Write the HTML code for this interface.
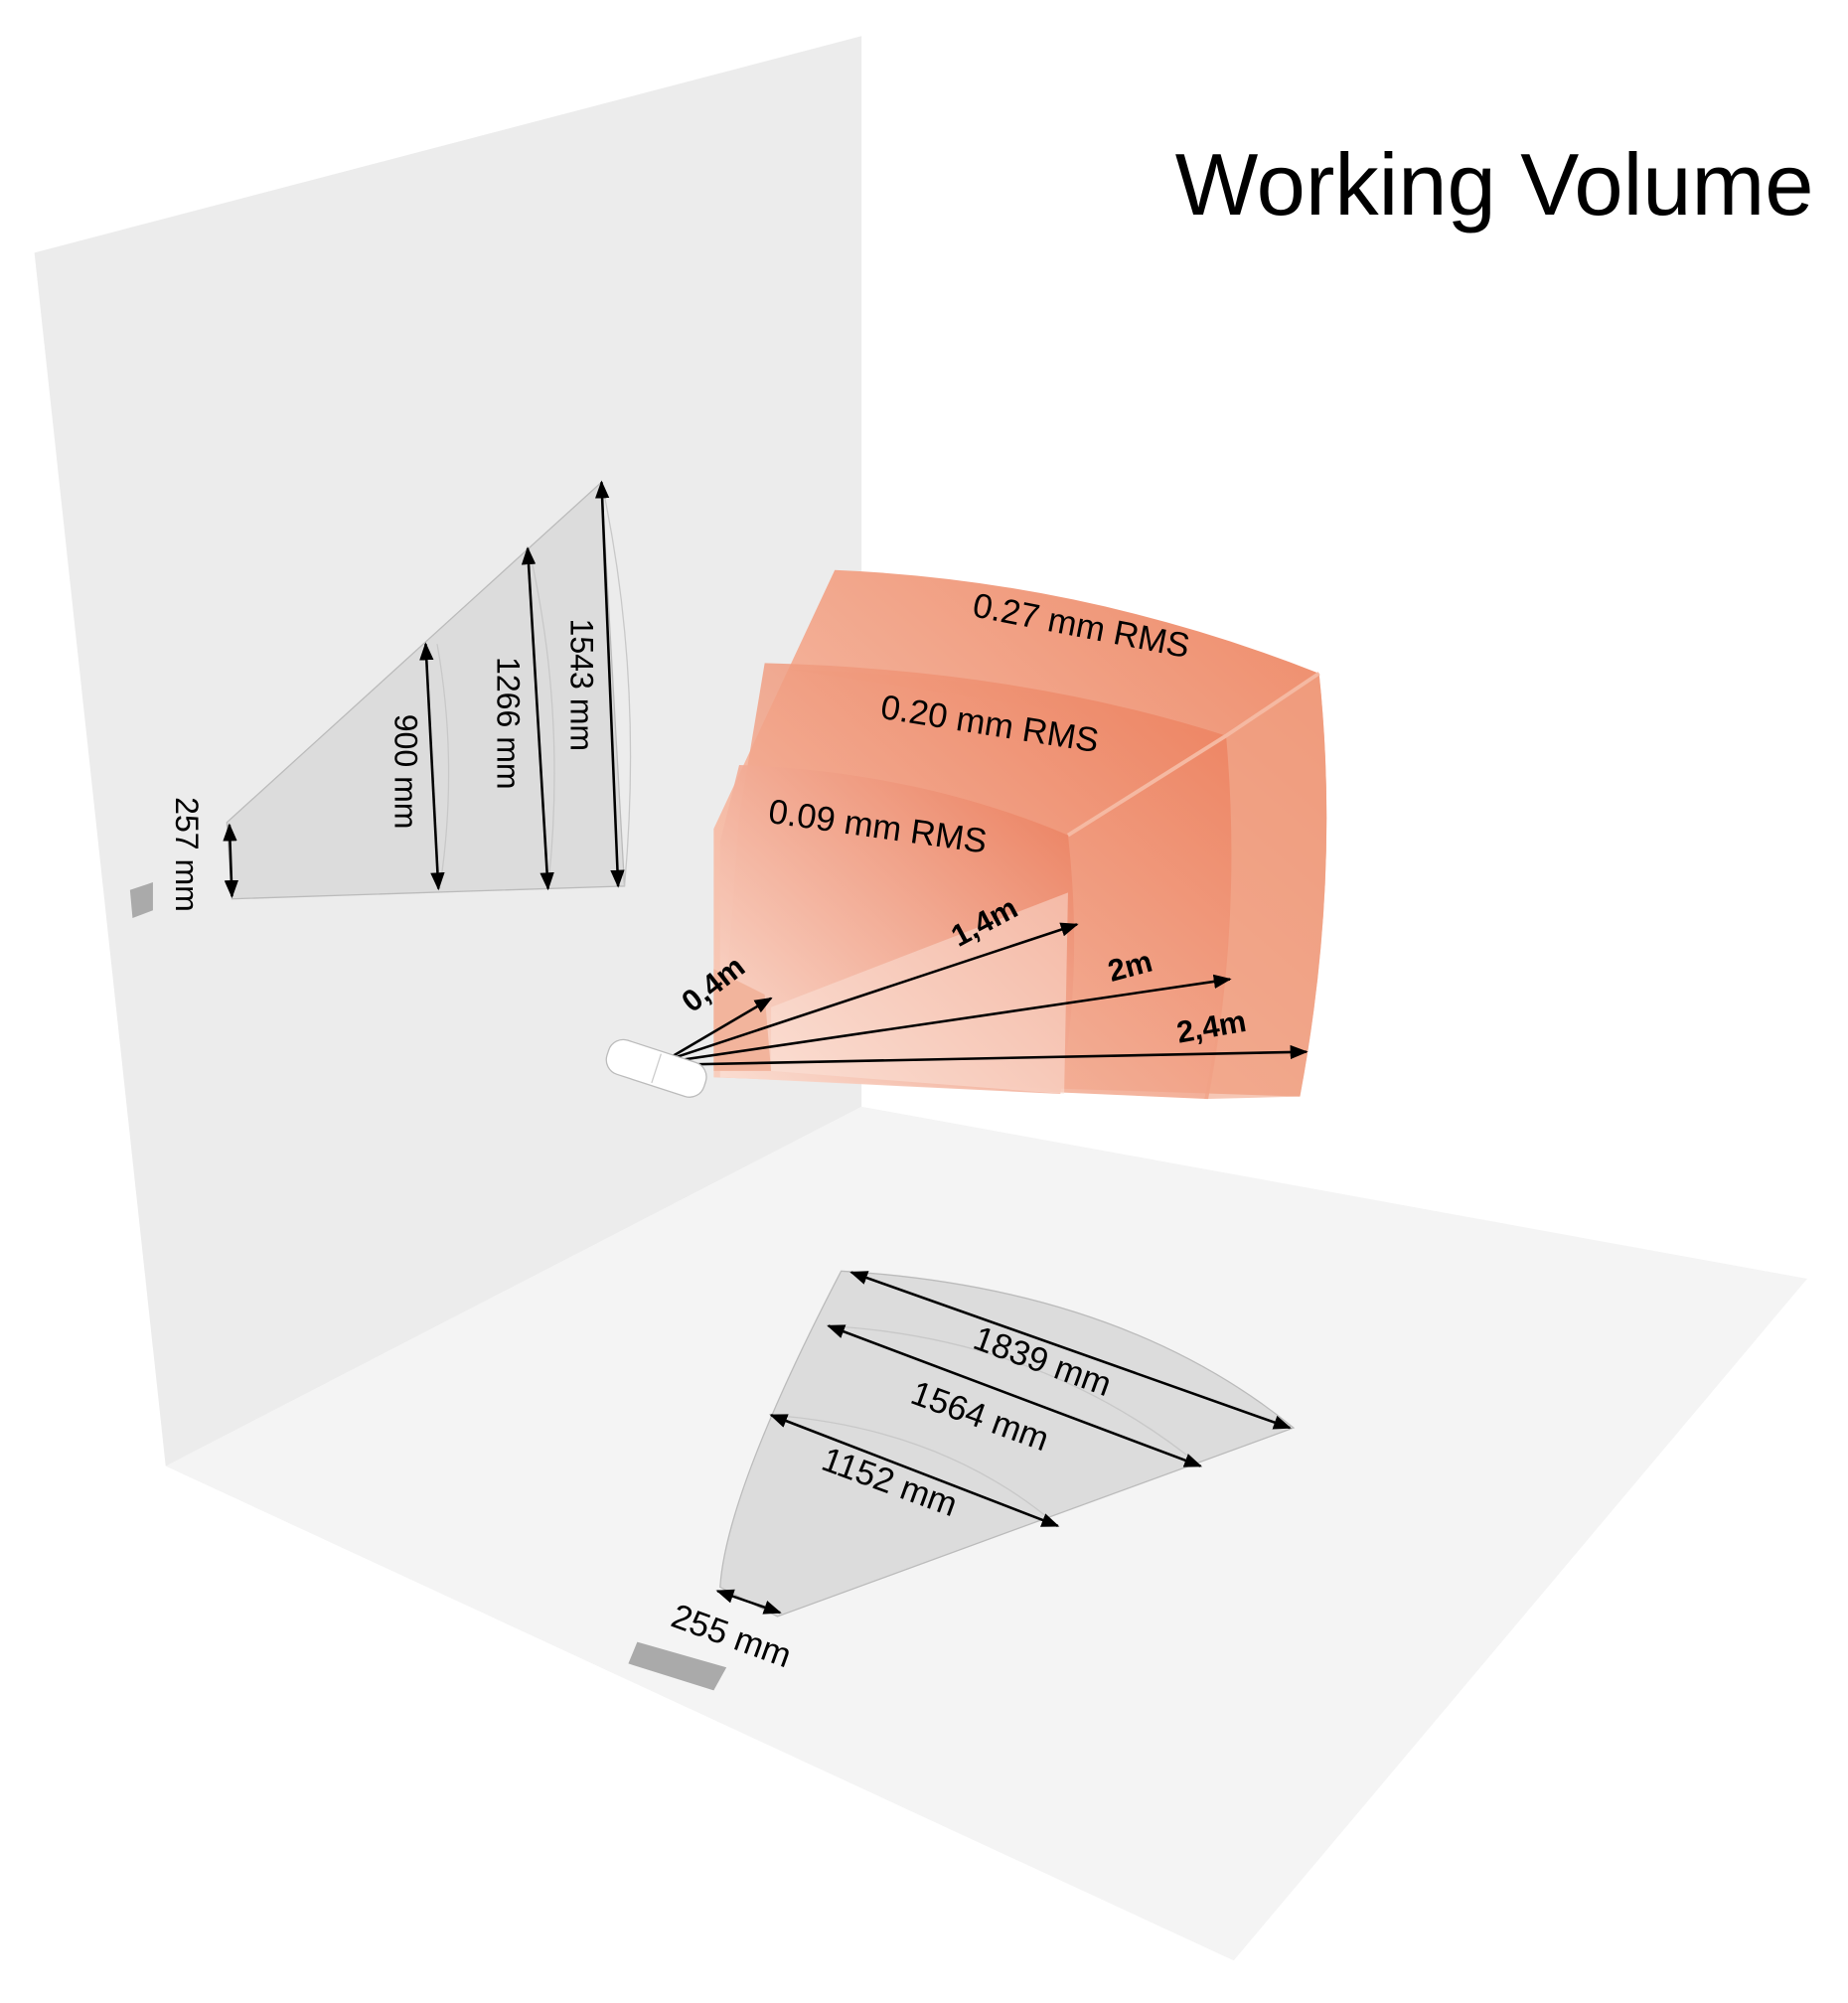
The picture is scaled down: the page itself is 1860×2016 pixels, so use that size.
<!DOCTYPE html>
<html><head><meta charset="utf-8"><style>
html,body{margin:0;padding:0;background:#fff}
svg{display:block}
text{font-family:"Liberation Sans",sans-serif}
</style></head><body>
<svg width="1860" height="2016" viewBox="0 0 1450 1571" xmlns="http://www.w3.org/2000/svg">
<defs>
<marker id="a" viewBox="0 0 10 10" refX="9" refY="5" markerWidth="7" markerHeight="7" orient="auto-start-reverse"><path d="M0,1 L10,5 L0,9 Z" fill="#000"/></marker>
<linearGradient id="g1" x1="0" y1="1" x2="1" y2="0"><stop offset="0" stop-color="#f8d0c0"/><stop offset="1" stop-color="#ee8a68"/></linearGradient>
<linearGradient id="g2" x1="0" y1="1" x2="1" y2="0"><stop offset="0" stop-color="#f6c4b0"/><stop offset="1" stop-color="#ec7d5a"/></linearGradient>
<linearGradient id="g3" x1="0" y1="1" x2="1" y2="0"><stop offset="0" stop-color="#fbe2d8"/><stop offset="1" stop-color="#ea7a58"/></linearGradient>
</defs>
<polygon points="130,1150 676,868 1418,1003 968,1538" fill="#f4f4f4"/>
<polygon points="27,198 676,28 676,868 130,1150" fill="#ececec"/>
<text x="922" y="168" font-size="69">Working Volume</text>
<polygon points="178,645 472,378 490,695 182,705" fill="#dcdcdc" stroke="#bbb" stroke-width="1"/>
<path d="M343,505 Q360,600 345,697 M415,430 Q445,560 430,697 M472,378 Q505,530 490,695" fill="none" stroke="#c8c8c8"/>
<g stroke="#000" stroke-width="2" marker-start="url(#a)" marker-end="url(#a)">
<line x1="180" y1="647" x2="182" y2="703"/><line x1="334" y1="505" x2="344" y2="697"/>
<line x1="414" y1="430" x2="430" y2="697"/><line x1="472" y1="378" x2="485" y2="695"/>
</g>
<g font-size="25">
<text transform="translate(138,625) rotate(90)">257 mm</text>
<text transform="translate(310,560) rotate(90)">900 mm</text>
<text transform="translate(390,515) rotate(90)">1266 mm</text>
<text transform="translate(448,485) rotate(90)">1543 mm</text>
</g>
<polygon points="102,698 120,692 120,714 104,720" fill="#aaa"/>
<path d="M655,447 Q850,455 1035,528 Q1052,690 1020,860 L560,845 L560,650 Z" fill="url(#g1)"/>
<path d="M620,525 Q800,530 962,577 L1035,528 Q1052,690 1020,860 L945,862 Q975,720 962,577 Z" fill="#f0a184" opacity="0.6"/>
<path d="M600,520 Q800,525 962,577 Q975,720 948,862 L565,845 L580,640 Z" fill="url(#g2)" opacity="0.85"/>
<path d="M580,600 Q720,605 838,655 Q850,760 832,858 L565,845 L565,660 Z" fill="url(#g3)" opacity="0.9"/>
<path d="M838,655 L962,577 M962,577 L1035,528" stroke="#f5b9a2" stroke-width="3" fill="none"/>
<path d="M560,760 L600,780 L605,840 L560,840 Z" fill="#f2b49c"/>
<path d="M605,790 L838,700 L835,858 L605,840 Z" fill="#fbe4da" opacity="0.5"/>
<g font-size="27">
<text transform="translate(762,483) rotate(11)">0.27 mm RMS</text>
<text transform="translate(690,563) rotate(9)">0.20 mm RMS</text>
<text transform="translate(602,645) rotate(8)">0.09 mm RMS</text>
</g>
<g stroke="#000" stroke-width="2" marker-end="url(#a)">
<line x1="525" y1="830" x2="605" y2="783"/><line x1="528" y1="830" x2="845" y2="725"/>
<line x1="530" y1="832" x2="965" y2="768"/><line x1="535" y1="835" x2="1025" y2="825"/>
</g>
<g font-size="24" font-weight="bold">
<text transform="translate(543,795) rotate(-38)">0,4m</text>
<text transform="translate(752,743) rotate(-28)">1,4m</text>
<text transform="translate(872,770) rotate(-15)">2m</text>
<text transform="translate(925,818) rotate(-10)">2,4m</text>
</g>
<g transform="translate(515,838) rotate(18)">
<rect x="-40" y="-14" width="80" height="28" rx="12" fill="#fff" stroke="#bbb"/>
<line x1="0" y1="-12" x2="0" y2="12" stroke="#ccc"/>
</g>
<path d="M660,997 Q880,1010 1015,1120 L610,1268 L565,1245 Q570,1170 660,997 Z" fill="#dcdcdc" stroke="#bbb"/>
<path d="M650,1040 Q820,1050 942,1150 M605,1110 Q740,1120 830,1197" fill="none" stroke="#c8c8c8"/>
<g stroke="#000" stroke-width="2" marker-start="url(#a)" marker-end="url(#a)">
<line x1="668" y1="998" x2="1012" y2="1120"/><line x1="650" y1="1040" x2="942" y2="1150"/>
<line x1="605" y1="1110" x2="830" y2="1197"/><line x1="563" y1="1248" x2="612" y2="1265"/>
</g>
<g font-size="27">
<text transform="translate(762,1057) rotate(20)">1839 mm</text>
<text transform="translate(713,1100) rotate(20)">1564 mm</text>
<text transform="translate(643,1152) rotate(20)">1152 mm</text>
<text transform="translate(525,1275) rotate(20)">255 mm</text>
</g>
<polygon points="500,1288 570,1308 560,1326 493,1305" fill="#aaa"/>
</svg>
</body></html>
